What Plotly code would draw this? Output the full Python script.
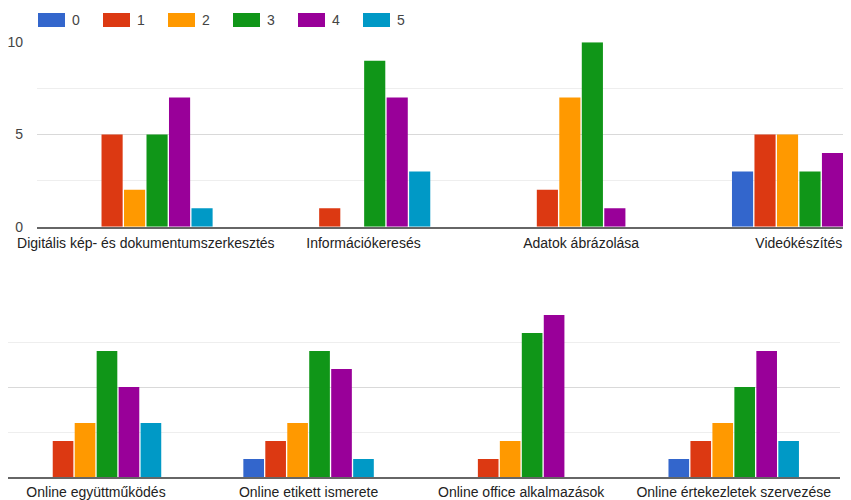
import plotly.graph_objects as go

# ---------------- data ----------------
levels = ["0", "1", "2", "3", "4", "5"]
colors = ["#3366cc", "#dc3912", "#ff9900", "#109618", "#990099", "#0099c6"]

top_categories = ["Digitális kép- és dokumentumszerkesztés", "Információkeresés",
                  "Adatok ábrázolása", "Videókészítés"]
bottom_categories = ["Online együttműködés", "Online etikett ismerete",
                     "Online office alkalmazások", "Online értekezletek szervezése"]

top_0 = [0, 0, 0, 3]
top_1 = [5, 1, 2, 5]
top_2 = [2, 0, 7, 5]
top_3 = [5, 9, 10, 3]
top_4 = [7, 7, 1, 4]
top_5 = [1, 3, 0, 0]

bottom_0 = [0, 1, 0, 1]
bottom_1 = [2, 2, 1, 2]
bottom_2 = [3, 3, 2, 3]
bottom_3 = [7, 7, 8, 5]
bottom_4 = [5, 6, 9, 7]
bottom_5 = [3, 1, 0, 2]

y_ticks = [0, 5, 10]

top_series = [top_0, top_1, top_2, top_3, top_4, top_5]
bottom_series = [bottom_0, bottom_1, bottom_2, bottom_3, bottom_4, bottom_5]

# ---------------- figure ----------------
# page body has an 8px margin, so the figure is placed at (8, 8) in the window
OFF = 8
W, H = 851 - OFF, 500 - OFF
FONT = "Liberation Sans, Arial, sans-serif"
FS = 14

fig = go.Figure()
for name, col, tv, bv in zip(levels, colors, top_series, bottom_series):
    fig.add_trace(go.Bar(x=top_categories, y=tv, name=name, marker_color=col,
                         marker_line_width=0, xaxis="x", yaxis="y",
                         showlegend=False, hoverinfo="x+y+name"))
    fig.add_trace(go.Bar(x=bottom_categories, y=bv, name=name, marker_color=col,
                         marker_line_width=0, xaxis="x2", yaxis="y2",
                         showlegend=False, hoverinfo="x+y+name"))

def px_x(p):
    return (p - OFF) / W

def px_y(p):
    return 1 - (p - OFF) / H

grid_major = "#d9d9d9"
grid_minor = "#eeeeee"
base_color = "#666666"

common_y = dict(range=[0, 10], tickvals=y_ticks, showgrid=True, gridcolor=grid_major,
                gridwidth=1, zeroline=False, ticks="", automargin=False,
                minor=dict(dtick=2.5, tick0=0, showgrid=True, gridcolor=grid_minor, gridwidth=1),
                tickfont=dict(family=FONT, size=FS, color="#444444"))

common_x = dict(type="category", showgrid=False, showline=True, linecolor=base_color,
                linewidth=1.5, ticks="", automargin=False,
                tickfont=dict(family=FONT, size=FS, color="#222222"))

fig.update_layout(
    width=W, height=H,
    margin=dict(l=0, r=0, t=0, b=0, autoexpand=False),
    paper_bgcolor="white", plot_bgcolor="white",
    barmode="group", bargap=0.38, bargroupgap=0.06,
    showlegend=False,
    font=dict(family=FONT, size=FS, color="#222222"),
    xaxis=dict(domain=[px_x(37), 1.0], range=[-0.5, 3.24], anchor="y",
               ticklabelstandoff=3, **common_x),
    yaxis=dict(domain=[px_y(226.7), px_y(42.3)], anchor="x",
               ticklabelstandoff=13, **common_y),
    xaxis2=dict(domain=[px_x(8), px_x(840)], range=[-0.414, 3.5], anchor="y2",
                ticklabelstandoff=1, **common_x),
    yaxis2=dict(domain=[px_y(477), px_y(297)], anchor="x2",
                showticklabels=False, **common_y),
)

# ---------------- custom legend (wide swatches) ----------------
leg_x0, leg_step, sw_w, sw_top, sw_h = 38, 65, 27, 13, 14
shapes = []
annotations = []
for i, (name, col) in enumerate(zip(levels, colors)):
    x0 = leg_x0 + i * leg_step
    shapes.append(dict(type="rect", xref="paper", yref="paper",
                       x0=px_x(x0), x1=px_x(x0 + sw_w),
                       y0=px_y(sw_top + sw_h), y1=px_y(sw_top),
                       fillcolor=col, line=dict(width=0)))
    annotations.append(dict(xref="paper", yref="paper", x=px_x(x0 + sw_w + 5),
                            y=px_y(sw_top + sw_h / 2), text=name, showarrow=False,
                            xanchor="left", yanchor="middle",
                            font=dict(family=FONT, size=FS, color="#444444")))
fig.update_layout(shapes=shapes, annotations=annotations)

fig.write_html("out.html")
